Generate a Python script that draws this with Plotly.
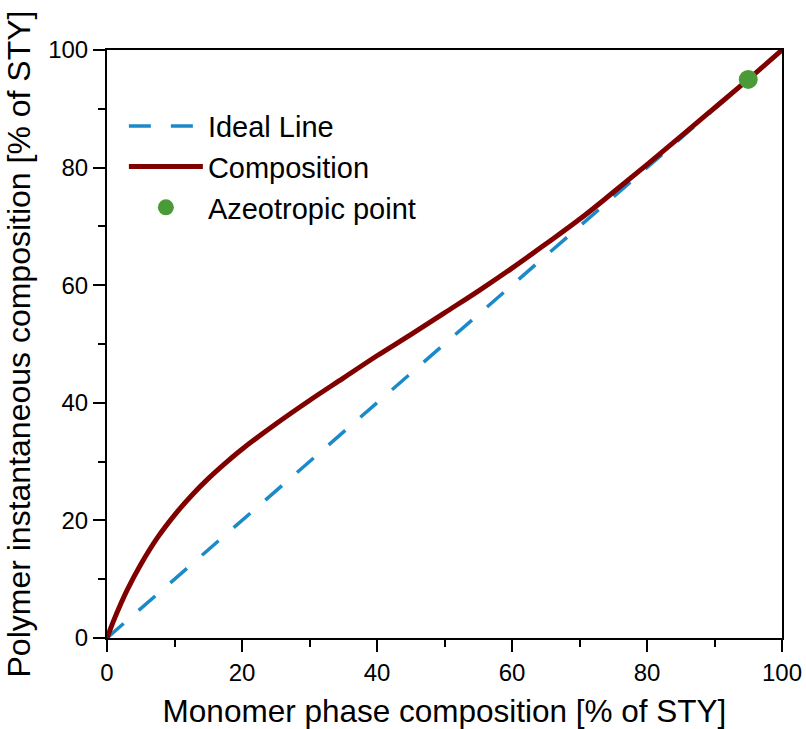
import plotly.graph_objects as go

# Ideal line (monomer = polymer composition)
ideal_x = [0, 100]
ideal_y = [0, 100]

# Composition curve
comp_x = [0, 1, 2, 3, 5, 7.5, 10, 12.5, 15, 17.5, 20, 25, 30, 35, 40, 45, 50,
          55, 60, 65, 70, 75, 80, 85, 90, 95, 100]
comp_y = [0, 3.0, 5.7, 8.2, 12.5, 17.1, 20.9, 24.2, 27.1, 29.7, 32.1, 36.4, 40.4,
          44.2, 48.0, 51.6, 55.3, 59.0, 62.9, 67.0, 71.2, 75.8, 80.5, 85.3, 90.15,
          95.0, 100]

# Azeotropic point
az_x = [95]
az_y = [95]

FONT = "Liberation Sans, Arial, sans-serif"

fig = go.Figure()
fig.add_trace(go.Scatter(x=ideal_x, y=ideal_y, mode="lines", name="Ideal Line",
                         line=dict(color="#1a8bc8", width=3.5, dash="22px,20px")))
fig.add_trace(go.Scatter(x=comp_x, y=comp_y, mode="lines", name="Composition",
                         line=dict(color="#800000", width=5, shape="spline", smoothing=1)))
fig.add_trace(go.Scatter(x=az_x, y=az_y, mode="markers", name="Azeotropic point",
                         marker=dict(color="#4a9a38", size=19)))

axis_common = dict(
    showline=True, linecolor="black", linewidth=2, mirror=True,
    ticks="outside", ticklen=12, tickwidth=2, tickcolor="black",
    showgrid=False, zeroline=False, automargin=False,
    tickfont=dict(family=FONT, size=24, color="black"),
    minor=dict(ticks="outside", ticklen=7, tickwidth=2, tickcolor="black", dtick=10),
)

fig.update_layout(
    width=806, height=729,
    margin=dict(l=107, r=24, t=50, b=91),
    paper_bgcolor="white", plot_bgcolor="white",
    font=dict(family=FONT, color="black"),
    showlegend=True,
    legend=dict(x=0.025, y=0.914, xanchor="left", yanchor="top",
                font=dict(family=FONT, size=29, color="black"),
                bgcolor="rgba(0,0,0,0)", itemwidth=74, tracegroupgap=0),
    xaxis=dict(range=[0, 100], dtick=20, tick0=0,
               title=dict(text="Monomer phase composition [% of STY]",
                          font=dict(family=FONT, size=31.5, color="black"), standoff=17),
               **axis_common),
    yaxis=dict(range=[0, 100], dtick=20, tick0=0,
               title=dict(text="Polymer instantaneous composition [% of STY]",
                          font=dict(family=FONT, size=32, color="black"), standoff=8),
               **axis_common),
)

fig.write_html("out.html")
